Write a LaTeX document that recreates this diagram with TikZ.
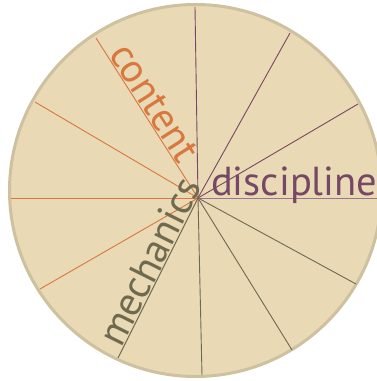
\documentclass[tikz,border=0pt]{standalone}
\usepackage{fontspec}
\setmainfont{PT Sans}
\definecolor{bgfill}{RGB}{233,217,181}
\definecolor{rim}{RGB}{205,193,160}
\definecolor{corange}{RGB}{216,120,62}
\definecolor{cpurple}{RGB}{118,72,101}
\definecolor{colive}{RGB}{110,106,80}
\tikzset{
  spokeO/.style={draw=corange, line width=0.9pt},
  spokeP/.style={draw=cpurple, line width=0.9pt},
  spokeM/.style={draw=colive, line width=0.9pt},
  bigword/.style={inner sep=0pt, font=\fontsize{40.5}{42}\selectfont}
}
\begin{document}
\begin{tikzpicture}[x=1pt,y=-1pt]
\useasboundingbox (0,0) rectangle (377,381);
\clip (0,0) rectangle (377,381);
\fill[bgfill, draw=rim, line width=3pt] (195.5,190.5) circle (186pt);
\coordinate (O) at (198,198);
% content spokes
\coordinate (c1) at (11,198);
\coordinate (c2) at (35,102);
\coordinate (c3) at (96,38);
\coordinate (c4) at (40,289);
\draw[spokeO] (O) -- (c1);
\draw[spokeO] (O) -- (c2);
\draw[spokeO] (O) -- (c3);
\draw[spokeO] (O) -- (c4);
% discipline spokes
\coordinate (d1) at (195,7);
\coordinate (d2) at (290,33);
\coordinate (d3) at (358,104);
\coordinate (d4) at (377,198);
\draw[spokeP] (O) -- (d1);
\draw[spokeP] (O) -- (d2);
\draw[spokeP] (O) -- (d3);
\draw[spokeP, draw=cpurple!75] (O) -- (d4);
% mechanics spokes
\coordinate (m1) at (118,358);
\coordinate (m2) at (202,375);
\coordinate (m3) at (292,350);
\coordinate (m4) at (356,284);
\draw[spokeM] (O) -- (m1);
\draw[spokeM] (O) -- (m2);
\draw[spokeM] (O) -- (m3);
\draw[spokeM] (O) -- (m4);
% labels
\node[bigword, text=corange, anchor=base west, rotate=-57.5] (tcontent) at (108,54) {content};
\node[bigword, text=cpurple, anchor=base west] (tdiscipline) at (211,195) {discipline};
\node[bigword, text=colive, anchor=base west, rotate=63.4] (tmech) at (121,349) {mechanics};
\end{tikzpicture}
\end{document}
